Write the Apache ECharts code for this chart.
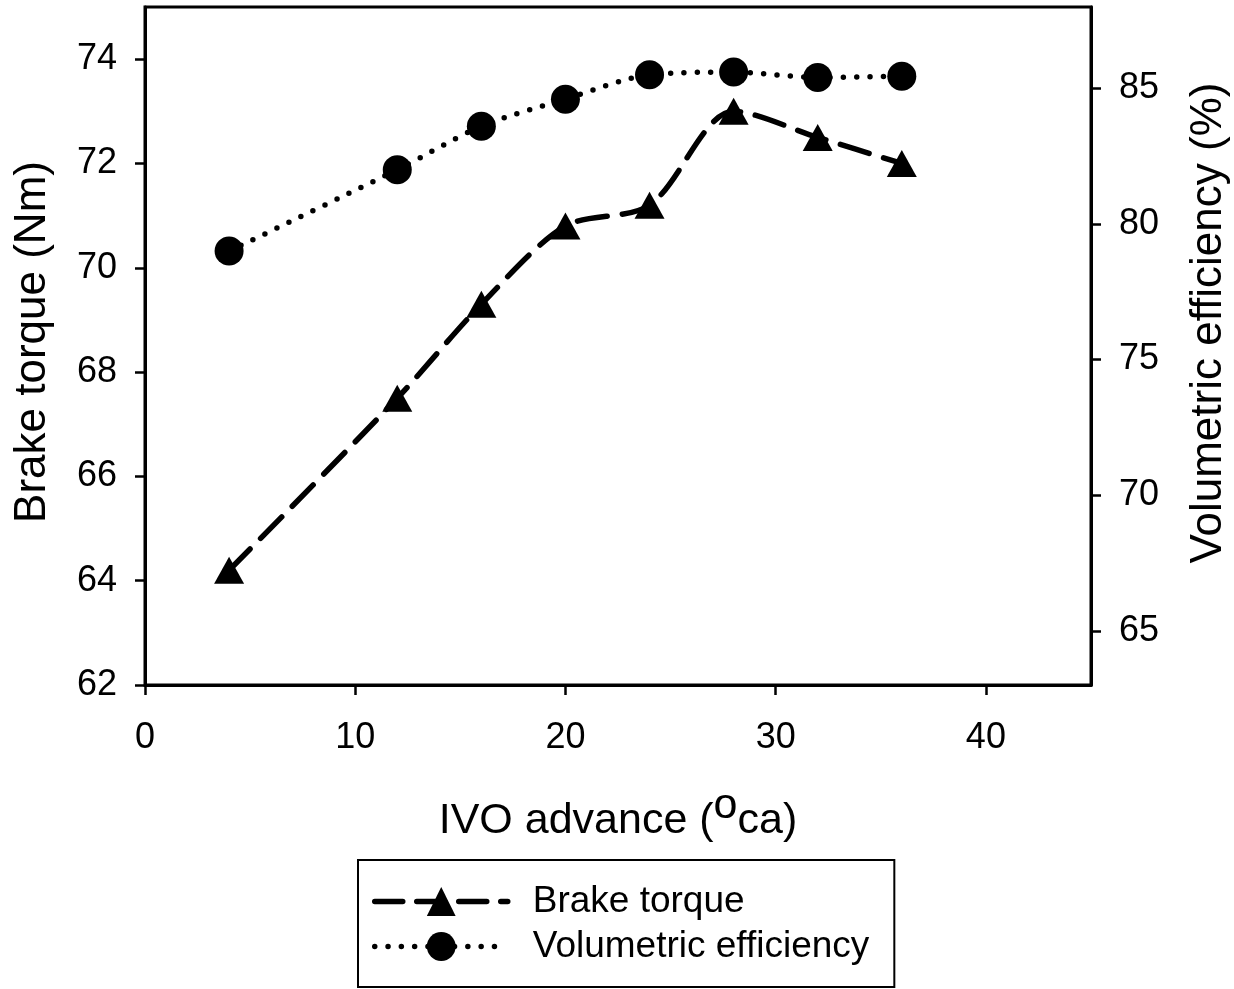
<!DOCTYPE html>
<html>
<head>
<meta charset="utf-8">
<script src="https://cdn.jsdelivr.net/npm/echarts@6/dist/echarts.min.js"></script>
<style>
html,body{margin:0;padding:0;background:#fff;}
#chart{width:1234px;height:989px;}
</style>
</head>
<body>
<div id="chart"></div>
<script>
const ivoAdvance = [4, 12, 16, 20, 24, 28, 32, 36];
const brakeTorque = [64.2, 67.5, 69.3, 70.8, 71.2, 73.0, 72.5, 72.0];
const volumetricEfficiency = [79.0, 82.0, 83.6, 84.6, 85.5, 85.6, 85.4, 85.45];
const xTicks = [0, 10, 20, 30, 40];
const leftTicks = [62, 64, 66, 68, 70, 72, 74];
const rightTicks = [65, 70, 75, 80, 85];

const FONT = "'Liberation Sans', Arial, sans-serif";
const chart = echarts.init(document.getElementById('chart'), null, {renderer: 'canvas'});

const axisLine = {show: true, lineStyle: {color: '#000', width: 3}};
const tickStyle = {show: true, inside: false, length: 10, lineStyle: {color: '#000', width: 2.5}};
const labelStyle = {color: '#000', fontSize: 36, fontFamily: FONT};
const nameStyle = {color: '#000', fontSize: 44, fontFamily: FONT};

chart.setOption({
  backgroundColor: '#fff',
  animation: false,
  grid: {left: 145, right: 143, top: 7, bottom: 304, outerBoundsMode: 'none', containLabel: false,
         show: true, borderColor: '#000', borderWidth: 3, backgroundColor: 'transparent'},
  legend: {
    orient: 'vertical',
    left: 358,
    top: 860,
    padding: [23, 25, 22, 14],
    borderColor: '#000',
    borderWidth: 2,
    itemWidth: 133,
    itemHeight: 36,
    itemGap: 8,
    lineStyle: {width: 5.5, cap: 'round'},
    textStyle: {color: '#000', fontSize: 37, fontFamily: FONT, padding: [0, 0, 0, 20]},
    data: [
      {name: 'Brake torque', lineStyle: {width: 5.5, type: [28, 14], cap: 'round'}},
      {name: 'Volumetric efficiency', lineStyle: {width: 5.5, type: [0, 13.3], cap: 'round'}}
    ]
  },
  xAxis: {
    type: 'value', min: 0, max: 45,
    name: '{n|IVO advance (}{s|o}{n|ca)}',
    nameLocation: 'middle', nameGap: 100,
    nameTextStyle: {
      rich: {
        n: {fontSize: 43, fontFamily: FONT, color: '#000', lineHeight: 58, verticalAlign: 'bottom'},
        s: {fontSize: 43, fontFamily: FONT, color: '#000', lineHeight: 43, verticalAlign: 'top'}
      }
    },
    axisLine: axisLine,
    axisTick: Object.assign({}, tickStyle, {customValues: xTicks}),
    axisLabel: Object.assign({}, labelStyle, {customValues: xTicks, margin: 35}),
    splitLine: {show: false}
  },
  yAxis: [
    {
      type: 'value', min: 62, max: 75, position: 'left',
      name: 'Brake torque (Nm)', nameLocation: 'middle', nameGap: 90, nameRotate: 90,
      nameTextStyle: Object.assign({}, nameStyle, {padding: [0, 0, 0, 8]}),
      axisLine: axisLine,
      axisTick: Object.assign({}, tickStyle, {customValues: leftTicks}),
      axisLabel: Object.assign({}, labelStyle, {customValues: leftTicks, margin: 28}),
      splitLine: {show: false}
    },
    {
      type: 'value', min: 63, max: 88, position: 'right',
      name: 'Volumetric efficiency (%)', nameLocation: 'middle', nameGap: 96, nameRotate: 90,
      nameTextStyle: Object.assign({}, nameStyle, {padding: [0, 0, 0, 46]}),
      axisLine: axisLine,
      axisTick: Object.assign({}, tickStyle, {customValues: rightTicks}),
      axisLabel: Object.assign({}, labelStyle, {customValues: rightTicks, margin: 28}),
      splitLine: {show: false}
    }
  ],
  series: [
    {
      name: 'Brake torque', type: 'line', yAxisIndex: 0,
      data: ivoAdvance.map((x, i) => [x, brakeTorque[i]]),
      smooth: 0.3,
      symbol: 'triangle', symbolSize: [30, 27],
      itemStyle: {color: '#000'},
      lineStyle: {color: '#000', width: 5.5, type: [30, 15], cap: 'round'}
    },
    {
      name: 'Volumetric efficiency', type: 'line', yAxisIndex: 1,
      data: ivoAdvance.map((x, i) => [x, volumetricEfficiency[i]]),
      smooth: 0.3,
      symbol: 'circle', symbolSize: 29,
      itemStyle: {color: '#000'},
      lineStyle: {color: '#000', width: 5.5, type: [0, 13.3], cap: 'round'}
    }
  ]
});
</script>
</body>
</html>
